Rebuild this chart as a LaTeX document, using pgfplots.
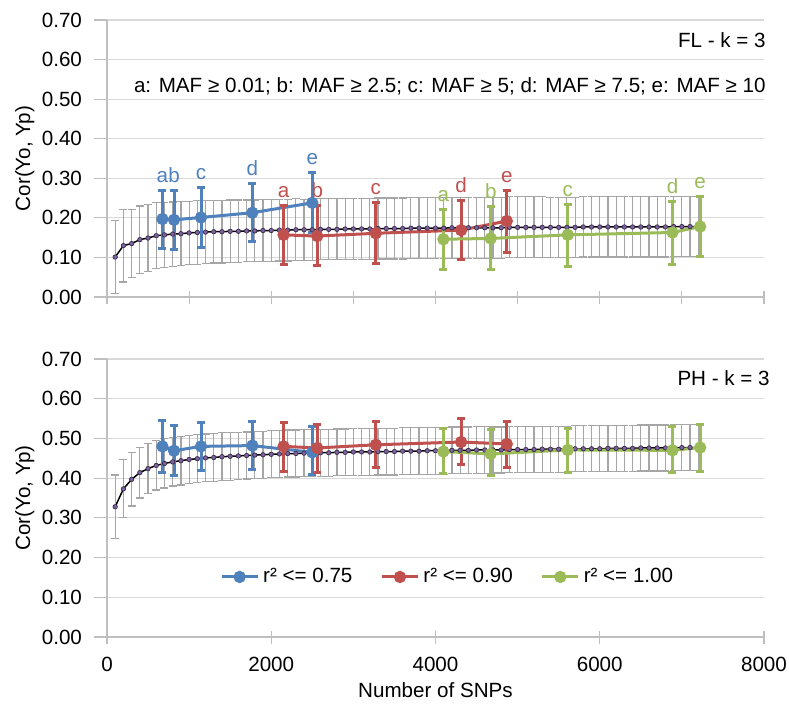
\documentclass[border=0pt]{standalone}
\usepackage{pgfplots}
\pgfplotsset{compat=1.18}
\usepackage{pgfplotstable}
\usepackage{fontspec}
\setmainfont{Liberation Sans}
\definecolor{c1}{HTML}{4F81BD}
\definecolor{c2}{HTML}{C0504D}
\definecolor{c3}{HTML}{9BBB59}
\definecolor{cp}{HTML}{8064A2}
\definecolor{cgrid}{HTML}{D9D9D9}
\definecolor{caxis}{HTML}{BFBFBF}
\definecolor{cerr}{HTML}{A6A6A6}
\newcommand\f{\fontsize{10.3}{12}\selectfont}

\pgfplotstableread{
x m e
100 0.101 0.093
200 0.130 0.092
300 0.135 0.086
400 0.145 0.085
500 0.149 0.084
600 0.155 0.083
700 0.157 0.082
800 0.159 0.081
900 0.160 0.081
1000 0.162 0.080
1100 0.163 0.080
1200 0.164 0.080
1300 0.165 0.079
1400 0.165 0.079
1500 0.166 0.079
1600 0.166 0.079
1700 0.167 0.078
1800 0.167 0.078
1900 0.168 0.078
2000 0.168 0.078
2100 0.169 0.078
2200 0.169 0.078
2300 0.170 0.078
2400 0.170 0.077
2500 0.170 0.077
2600 0.171 0.077
2700 0.171 0.077
2800 0.171 0.077
2900 0.172 0.077
3000 0.172 0.077
3100 0.172 0.077
3200 0.172 0.077
3300 0.173 0.077
3400 0.173 0.077
3500 0.173 0.077
3600 0.173 0.077
3700 0.174 0.077
3800 0.174 0.077
3900 0.174 0.077
4000 0.174 0.077
4100 0.174 0.077
4200 0.175 0.077
4300 0.175 0.077
4400 0.175 0.077
4500 0.175 0.077
4600 0.175 0.077
4700 0.175 0.077
4800 0.175 0.077
4900 0.176 0.077
5000 0.176 0.077
5100 0.176 0.077
5200 0.176 0.077
5300 0.176 0.077
5400 0.176 0.076
5500 0.176 0.076
5600 0.176 0.076
5700 0.176 0.076
5800 0.177 0.076
5900 0.177 0.076
6000 0.177 0.076
6100 0.177 0.076
6200 0.177 0.076
6300 0.177 0.076
6400 0.177 0.076
6500 0.177 0.076
6600 0.177 0.076
6700 0.177 0.076
6800 0.177 0.076
6900 0.178 0.076
7000 0.178 0.076
7100 0.178 0.076
7200 0.178 0.076
}\FLmean

\pgfplotstableread{
x m e
100 0.328 0.080
200 0.373 0.073
300 0.397 0.067
400 0.414 0.064
500 0.424 0.063
600 0.432 0.062
700 0.437 0.062
800 0.441 0.061
900 0.444 0.061
1000 0.447 0.060
1100 0.449 0.060
1200 0.451 0.060
1300 0.452 0.060
1400 0.454 0.060
1500 0.455 0.060
1600 0.456 0.059
1700 0.457 0.059
1800 0.458 0.059
1900 0.459 0.059
2000 0.460 0.059
2100 0.461 0.059
2200 0.462 0.059
2300 0.462 0.059
2400 0.463 0.059
2500 0.463 0.059
2600 0.464 0.059
2700 0.464 0.059
2800 0.465 0.059
2900 0.465 0.059
3000 0.466 0.059
3100 0.466 0.059
3200 0.466 0.059
3300 0.467 0.059
3400 0.467 0.059
3500 0.467 0.059
3600 0.468 0.059
3700 0.468 0.059
3800 0.468 0.059
3900 0.469 0.059
4000 0.469 0.059
4100 0.469 0.059
4200 0.470 0.059
4300 0.470 0.059
4400 0.470 0.059
4500 0.471 0.059
4600 0.471 0.059
4700 0.471 0.058
4800 0.471 0.058
4900 0.472 0.058
5000 0.472 0.058
5100 0.472 0.058
5200 0.472 0.058
5300 0.473 0.058
5400 0.473 0.058
5500 0.473 0.058
5600 0.473 0.058
5700 0.474 0.058
5800 0.474 0.058
5900 0.474 0.058
6000 0.474 0.058
6100 0.475 0.058
6200 0.475 0.058
6300 0.475 0.058
6400 0.475 0.058
6500 0.476 0.058
6600 0.476 0.058
6700 0.476 0.058
6800 0.476 0.058
6900 0.477 0.058
7000 0.477 0.058
7100 0.477 0.058
7200 0.477 0.058
}\PHmean

\pgfplotstableread{
x y top bot lab
675 0.197 0.268 0.123 a
816 0.195 0.268 0.119 b
1145 0.201 0.276 0.126 c
1770 0.213 0.287 0.140 d
2500 0.238 0.314 0.163 e
}\FLblue
\pgfplotstableread{
x y top bot lab
2150 0.157 0.232 0.083 a
2560 0.154 0.232 0.079 b
3273 0.161 0.239 0.085 c
4312 0.169 0.245 0.094 d
4868 0.192 0.268 0.113 e
}\FLred
\pgfplotstableread{
x y top bot lab
4096 0.146 0.222 0.070 a
4673 0.148 0.228 0.070 b
5611 0.157 0.234 0.078 c
6886 0.163 0.241 0.083 d
7223 0.178 0.253 0.102 e
}\FLgreen

\pgfplotstableread{
x y top bot
675 0.480 0.545 0.414
816 0.469 0.532 0.407
1145 0.480 0.540 0.419
1770 0.482 0.543 0.421
2500 0.465 0.529 0.408
}\PHblue
\pgfplotstableread{
x y top bot
2150 0.480 0.541 0.418
2560 0.476 0.535 0.414
3273 0.484 0.543 0.427
4312 0.491 0.549 0.434
4868 0.486 0.543 0.427
}\PHred
\pgfplotstableread{
x y top bot
4096 0.467 0.525 0.411
4673 0.461 0.522 0.407
5611 0.471 0.526 0.414
6886 0.470 0.530 0.415
7223 0.477 0.535 0.418
}\PHgreen

\pgfplotsset{
  myaxis/.style={
    scale only axis, width=328.5pt,
    xmin=0, xmax=8000, ymin=0, ymax=0.7,
    ytick={0,0.1,0.2,0.3,0.4,0.5,0.6,0.7},
    yticklabel style={/pgf/number format/fixed, /pgf/number format/fixed zerofill, /pgf/number format/precision=2, xshift=-2.5pt},
    xticklabel style={/pgf/number format/1000 sep={}, yshift=-3.5pt},
    /pgf/number format/assume math mode=true,
    axis x line=bottom, axis y line=left,
    axis line style={caxis, line width=0.6pt, -},
    ymajorgrids, grid style={cgrid, line width=0.6pt},
    tick style={caxis, line width=0.6pt},
    major tick length=6.5pt, xtick align=center, ytick align=outside,
    tick label style={font=\f, text=black},
    label style={font=\f},
    ylabel={Cor(Yo, Yp)},
    ylabel style={at={(axis description cs:-0.125,0.5)}, anchor=center},
    clip=false,
  },
  meanplot/.style={black, line width=0.75pt, mark=*, mark size=1.1pt,
    mark options={fill=cp, draw=cp!50!black, line width=0.4pt}, forget plot,
    error bars/.cd, y dir=both, y explicit,
    error bar style={cerr, line width=0.6pt},
    error mark options={rotate=90, cerr, mark size=2pt, line width=0.6pt}},
  serplot/.style={#1, line width=1.5pt, mark=*, mark size=2.3pt,
    mark options={fill=#1, solid},
    error bars/.cd, y dir=both, y explicit,
    error bar style={#1, line width=1.5pt},
    error mark options={rotate=90, #1, mark size=2pt, line width=1.5pt}},
  labplot/.style={forget plot, only marks, mark=none, point meta=explicit symbolic,
    nodes near coords, nodes near coords align={anchor=base},
    every node near coord/.append style={yshift=4pt, text=#1, font=\f, inner sep=0pt}},
}

\begin{document}
\begin{tikzpicture}
\path[use as bounding box] (0,0) rectangle (394.5pt,354.5pt);

\begin{axis}[myaxis, at={(53.5pt,206pt)}, anchor=south west, height=138.5pt,
  xtick={0,1000,2000,3000,4000,5000,6000,7000,8000}, xticklabels={}]
\addplot[meanplot] table[x=x, y=m, y error=e] {\FLmean};
\addplot[serplot=c1] table[x=x, y=y, y error plus expr=\thisrow{top}-\thisrow{y}, y error minus expr=\thisrow{y}-\thisrow{bot}] {\FLblue};
\addplot[serplot=c2] table[x=x, y=y, y error plus expr=\thisrow{top}-\thisrow{y}, y error minus expr=\thisrow{y}-\thisrow{bot}] {\FLred};
\addplot[serplot=c3] table[x=x, y=y, y error plus expr=\thisrow{top}-\thisrow{y}, y error minus expr=\thisrow{y}-\thisrow{bot}] {\FLgreen};
\addplot[labplot=c1] table[x=x, y=top, meta=lab] {\FLblue};
\addplot[labplot=c2] table[x=x, y=top, meta=lab] {\FLred};
\addplot[labplot=c3] table[x=x, y=top, meta=lab] {\FLgreen};
\node[anchor=east, font=\f, inner sep=0pt] at (axis cs:8025,0.649) {FL - k = 3};
\node[anchor=east, font=\f, inner sep=0pt] at (axis cs:8025,0.532) {a: MAF ≥ 0.01; b: MAF ≥ 2.5; c: MAF ≥ 5; d: MAF ≥ 7.5; e: MAF ≥ 10};
\end{axis}

\begin{axis}[myaxis, at={(53.5pt,36pt)}, anchor=south west, height=139pt,
  xtick={0,2000,4000,6000,8000},
  xlabel={Number of SNPs},
  xlabel style={at={(axis description cs:0.5,-0.19)}, anchor=center},
  legend style={at={(axis description cs:0.52,0.216)}, anchor=center, draw=none, fill=none,
    font=\f, legend columns=3, /tikz/every even column/.append style={column sep=12pt}},
  legend image code/.code={\draw[mark repeat=2, mark phase=2, #1] plot coordinates {(0pt,0pt) (9pt,0pt) (18pt,0pt)};}]
\addplot[meanplot] table[x=x, y=m, y error=e] {\PHmean};
\addplot[serplot=c1] table[x=x, y=y, y error plus expr=\thisrow{top}-\thisrow{y}, y error minus expr=\thisrow{y}-\thisrow{bot}] {\PHblue};
\addlegendentry{r² <= 0.75}
\addplot[serplot=c2] table[x=x, y=y, y error plus expr=\thisrow{top}-\thisrow{y}, y error minus expr=\thisrow{y}-\thisrow{bot}] {\PHred};
\addlegendentry{r² <= 0.90}
\addplot[serplot=c3] table[x=x, y=y, y error plus expr=\thisrow{top}-\thisrow{y}, y error minus expr=\thisrow{y}-\thisrow{bot}] {\PHgreen};
\addlegendentry{r² <= 1.00}
\node[anchor=east, font=\f, inner sep=0pt] at (axis cs:8074,0.653) {PH - k = 3};
\end{axis}
\end{tikzpicture}
\end{document}
